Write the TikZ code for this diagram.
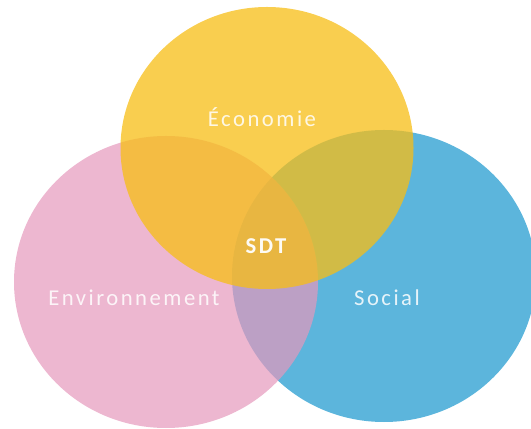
\documentclass[tikz,border=0pt]{standalone}
\usepackage{fontspec}
\newfontfamily\vennfont{Carlito}[LetterSpace=11]
\definecolor{sdtblue}{RGB}{92,181,220}
\definecolor{sdtpink}{RGB}{229,152,188}
\definecolor{sdtyellow}{RGB}{247,190,24}
\tikzset{
  pillar/.style={draw=none},
  pillar label/.style={anchor=base, text=white, text opacity=0.85, font=\vennfont\fontsize{17}{19}\selectfont, inner sep=0pt}
}

\begin{document}
\begin{tikzpicture}[x=0.75pt, y=0.75pt]
\useasboundingbox (0,0) rectangle (531,428);
\clip (0,0) rectangle (531,428);
\fill[pillar, sdtblue] (384,152) ellipse [x radius=152, y radius=146];
\fill[pillar, sdtpink, fill opacity=0.7] (166,146) ellipse [x radius=152, y radius=146];
\fill[pillar, sdtyellow, fill opacity=0.76] (267,280) ellipse [x radius=146.5, y radius=141];
\node[pillar label] (eco) at (262,301) {Économie};
\node[pillar label] (env) at (134,122) {Environnement};
\node[pillar label] (soc) at (387,122) {Social};
\node[pillar label, text opacity=0.95, font=\vennfont\bfseries\fontsize{17}{19}\selectfont] (sdt) at (266,174) {SDT};
\end{tikzpicture}
\end{document}
